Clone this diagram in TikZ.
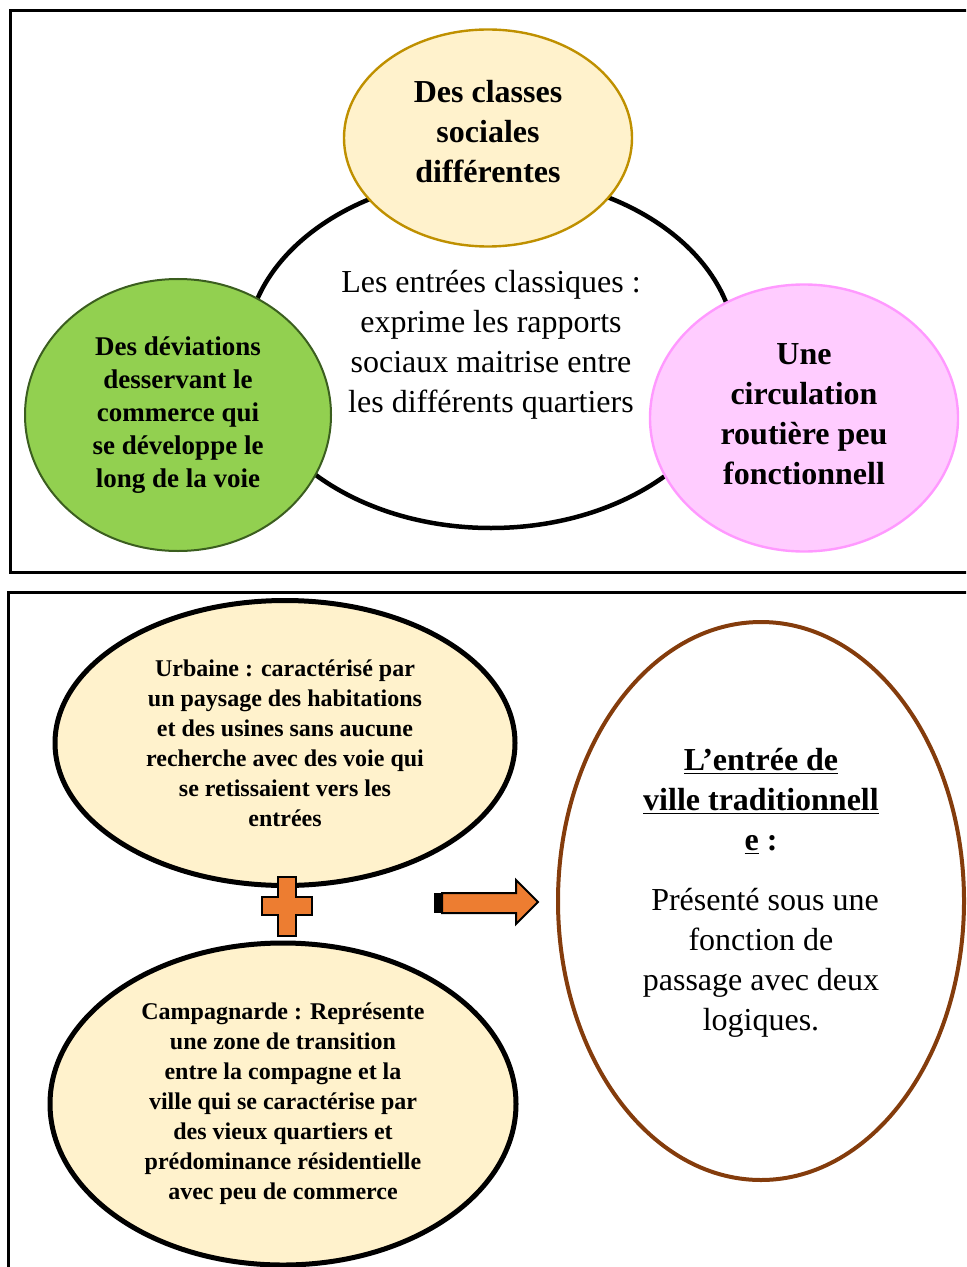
\documentclass[tikz,border=0pt]{standalone}
\usepackage{fontspec}
\setmainfont{Liberation Serif}
\usetikzlibrary{shapes.geometric}

\definecolor{creme}{HTML}{FFF2CC}
\definecolor{ocre}{HTML}{BF9000}
\definecolor{herbe}{HTML}{92D050}
\definecolor{foret}{HTML}{3B5E1F}
\definecolor{rose}{HTML}{FFCCFF}
\definecolor{rosevif}{HTML}{FF99FF}
\definecolor{orange}{HTML}{ED7D31}
\definecolor{brun}{HTML}{843C0C}

\begin{document}
\begin{tikzpicture}[x=0.5pt, y=-0.5pt,
  bulle/.style={ellipse, inner sep=0pt, align=center},
  grand/.style={font=\fontsize{16}{20}\selectfont},
  grandgras/.style={font=\fontsize{16}{20}\selectfont\bfseries},
  moyen/.style={font=\fontsize{13.5}{16.5}\selectfont\bfseries},
  petit/.style={font=\fontsize{12}{15}\selectfont\bfseries}]

\clip (0,0) rectangle (966,1267);

% frames
\draw[line width=1.5pt] (10,11) rectangle (980,572);
\draw[line width=1.5pt] (8,592) rectangle (980,1290);

% top part
\node[bulle, draw, line width=2.25pt, minimum width=245pt, minimum height=176pt] (centre) at (491,352) {};
\node[grand, align=center] (centretxt) at (491,345)
  {Les entrées classiques :\\ exprime les rapports\\ sociaux maitrise entre\\ les différents quartiers};

\node[bulle, fill=creme, draw=ocre, line width=1.2pt,
  minimum width=144pt, minimum height=108.5pt] (classes) at (488,138) {};
\node[grandgras, align=center] (classestxt) at (488,132) {Des classes\\ sociales\\ différentes};

\node[bulle, moyen, fill=herbe, draw=foret, line width=1pt,
  minimum width=153pt, minimum height=136pt] (deviations) at (178,415)
  {Des déviations\\ desservant le\\ commerce qui\\ se développe le\\ long de la voie};

\node[bulle, fill=rose, draw=rosevif, line width=1.2pt,
  minimum width=154pt, minimum height=133.5pt] (circulation) at (804,418) {};
\node[grandgras, align=center] (circulationtxt) at (804,414)
  {Une\\ circulation\\ routière peu\\ fonctionnell};

% bottom part
\node[bulle, petit, fill=creme, draw, line width=2.5pt,
  minimum width=230pt, minimum height=142.5pt] (urbaine) at (285,743)
  {Urbaine : caractérisé par\\ un paysage des habitations\\ et des usines sans aucune\\
   recherche avec des voie qui\\ se retissaient vers les\\ entrées};

\node[bulle, petit, fill=creme, draw, line width=2.5pt,
  minimum width=233pt, minimum height=161pt] (campagne) at (283,1104)
  {Campagnarde : Représente\\ une zone de transition\\ entre la compagne et la\\
   ville qui se caractérise par\\ des vieux quartiers et\\ prédominance résidentielle\\ avec peu de commerce};

\node[bulle, draw=brun, line width=2pt,
  minimum width=203pt, minimum height=279pt] (traditionnelle) at (761,901) {};
\node[grand, align=center] (tradtxt) at (761,893)
  {\textbf{\underline{L’entrée de}}\\ \textbf{\underline{ville traditionnell}}\\
   \textbf{\underline{e} :}\\[10pt] \ Présenté sous une\\ fonction de\\ passage avec deux\\ logiques.};

% plus sign
\filldraw[fill=orange, draw=black, line width=1pt]
  (278,877) -- (296,877) -- (296,897) -- (312,897) -- (312,915) -- (296,915)
  -- (296,936) -- (278,936) -- (278,915) -- (262,915) -- (262,897) -- (278,897) -- cycle;

% arrow
\fill[black] (434,893) rectangle (442,913);
\filldraw[fill=orange, draw=black, line width=1pt]
  (442,893) -- (516,893) -- (516,880) -- (538,902) -- (516,924) -- (516,913) -- (442,913) -- cycle;

\end{tikzpicture}
\end{document}
